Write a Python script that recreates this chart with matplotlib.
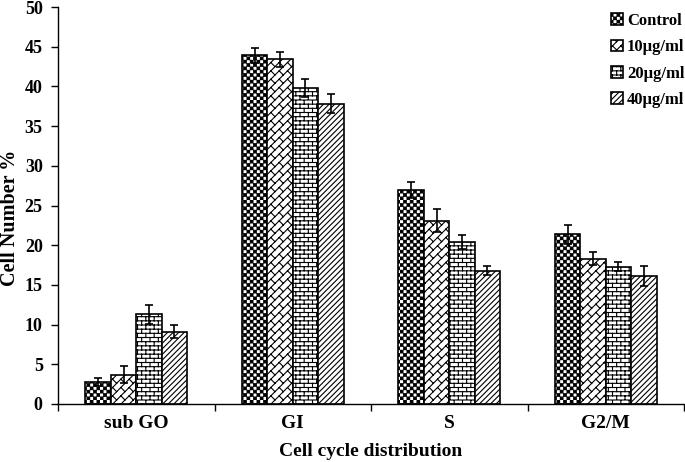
import numpy as np
import matplotlib
matplotlib.use("Agg")
import matplotlib.pyplot as plt
import matplotlib.hatch as mhatch
from matplotlib.path import Path

# ---------------- data ----------------
categories = ['sub GO', 'GI', 'S', 'G2/M']
series_names = ['Control', '10µg/ml', '20µg/ml', '40µg/ml']
control = [2.8, 43.9, 27.0, 21.4]
dose10 = [3.7, 43.4, 23.1, 18.3]
dose20 = [11.3, 39.8, 20.4, 17.3]
dose40 = [9.1, 37.8, 16.8, 16.1]
control_err = [0.5, 0.9, 1.0, 1.2]
dose10_err = [1.1, 0.9, 1.4, 0.8]
dose20_err = [1.2, 1.1, 0.9, 0.6]
dose40_err = [0.8, 1.2, 0.6, 1.3]
yticks = [0, 5, 10, 15, 20, 25, 30, 35, 40, 45, 50]

# ---------------- custom hatch patterns ----------------
HATCH_LW = 0.8
plt.rcParams['hatch.linewidth'] = HATCH_LW
M, L, C = Path.MOVETO, Path.LINETO, Path.CLOSEPOLY


def checker_path(n=30):
    shrink = (HATCH_LW / 72.0) * 0.35
    c = 1.0 / n
    verts, codes = [], []
    for i in range(n):
        for j in range(n):
            if (i + j) % 2 == 0:
                x0, x1 = i * c + shrink, (i + 1) * c - shrink
                y0, y1 = j * c + shrink, (j + 1) * c - shrink
                verts += [(x0, y0), (x1, y0), (x1, y1), (x0, y1), (x0, y0)]
                codes += [M, L, L, L, C]
    return Path(verts, codes)


def hbrick_path(rows=24, cols=12):
    verts, codes = [], []
    for r in range(rows + 1):
        y = r / rows
        verts += [(-0.1, y), (1.1, y)]
        codes += [M, L]
    for r in range(rows):
        y0, y1 = r / rows, (r + 1) / rows
        for c in range(-1, cols + 2):
            x = (c + 0.5 * (r % 2)) / cols
            verts += [(x, y0), (x, y1)]
            codes += [M, L]
    return Path(verts, codes)


def dbrick_path(n=12, q=6):
    verts, codes = [], []
    for k in range(-n - 1, n + 2):
        b = k / n
        verts += [(-0.5, -0.5 + b), (1.5, 1.5 + b)]
        codes += [M, L]
    for k in range(-n - 1, n + 1):
        for m in range(-2 * q, 4 * q):
            t = (m + 0.5 * (k % 2)) / q
            x0, y0 = (t - k / n) / 2, (t + k / n) / 2
            x1, y1 = (t - (k + 1) / n) / 2, (t + (k + 1) / n) / 2
            if max(x0, x1) < -0.1 or min(x0, x1) > 1.1 or max(y0, y1) < -0.1 or min(y0, y1) > 1.1:
                continue
            verts += [(x0, y0), (x1, y1)]
            codes += [M, L]
    return Path(verts, codes)


_custom_hatches = {'o': checker_path(), '.': hbrick_path(), '*': dbrick_path()}
_orig_get_path = mhatch.get_path


def _patched_get_path(hatchpattern, density=6):
    if hatchpattern in _custom_hatches:
        return _custom_hatches[hatchpattern]
    return _orig_get_path(hatchpattern, density)


mhatch.get_path = _patched_get_path

# ---------------- plotting ----------------
plt.rcParams['font.family'] = ['Liberation Serif', 'DejaVu Serif']
plt.rcParams['font.weight'] = 'bold'

fig = plt.figure(figsize=(6.85, 4.62), dpi=100)
ax = fig.add_axes([58 / 685, 58 / 462, 626 / 685, 397 / 462])

values = [control, dose10, dose20, dose40]
errors = [control_err, dose10_err, dose20_err, dose40_err]
hatches = ['o', '*', '.', '//////']
x = np.arange(len(categories))
w = 0.1625
for j, (vals, errs, h, name) in enumerate(zip(values, errors, hatches, series_names)):
    ax.bar(x + (j - 1.5) * w, vals, width=w, yerr=errs, color='white',
           edgecolor='black', linewidth=1.2, hatch=h, label=name,
           error_kw=dict(ecolor='black', elinewidth=1.2, capsize=3, capthick=1.2),
           zorder=2)

ax.set_xlim(-0.5, 3.5)
ax.set_ylim(0, 50)
ax.set_yticks(yticks)
ax.set_yticklabels([str(t) for t in yticks], fontsize=13, fontweight='bold')
ax.set_xticks(x)
ax.set_xticklabels(categories, fontsize=14, fontweight='bold')
ax.set_xticks(np.arange(-0.5, 4.0, 1.0), minor=True)
ax.tick_params(axis='x', which='major', length=0, pad=8)
ax.tick_params(axis='x', which='minor', length=5, width=1, direction='out')
ax.tick_params(axis='y', which='major', length=5, width=1, direction='out', pad=6)
for s in ['top', 'right']:
    ax.spines[s].set_visible(False)
for s in ['left', 'bottom']:
    ax.spines[s].set_linewidth(1.0)

ax.set_ylabel('Cell Number %', fontsize=14.5, fontweight='bold')
ax.yaxis.set_label_coords(-0.060, 0.468)
ax.set_xlabel('Cell cycle distribution', fontsize=14, fontweight='bold')
ax.xaxis.set_label_coords(0.5, -0.098)

leg = ax.legend(loc='upper left', bbox_to_anchor=(611 / 685, 1 - 13 / 462),
                bbox_transform=fig.transFigure, frameon=False,
                prop=dict(family='Liberation Serif', weight='bold', size=12),
                handlelength=0.7, handleheight=0.7, handletextpad=0.25,
                labelspacing=0.62, borderpad=0, borderaxespad=0)

fig.savefig('out.png', dpi=100)
